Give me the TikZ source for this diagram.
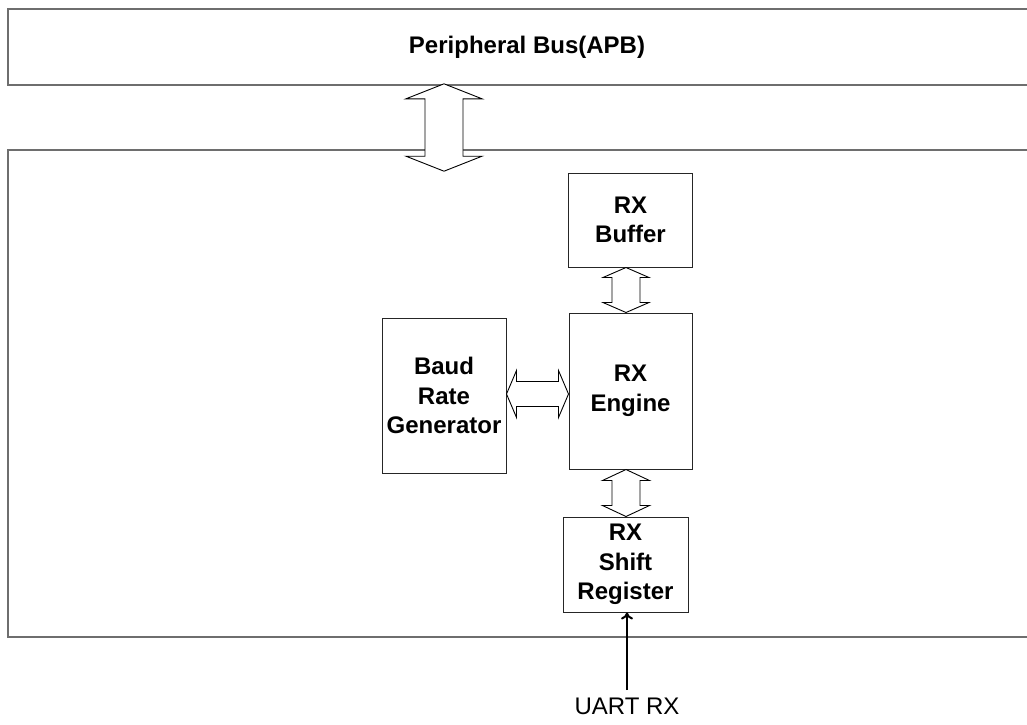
\documentclass[tikz,border=0pt]{standalone}
\usepackage{fontspec}
\setmainfont{Liberation Sans}
\usetikzlibrary{calc,arrows.meta}
\definecolor{edgegray}{HTML}{6E6E6E}
\tikzset{
  bigbox/.style={draw=edgegray, line width=1.6pt, inner sep=0pt},
  blockbox/.style={draw=black!85, line width=1pt, inner sep=0pt, align=center,
    font=\bfseries\fontsize{24}{29.5}\selectfont},
  blockarrow/.style={draw=black, line width=0.9pt, fill=white, line join=miter},
  sigarrow/.style={line width=2pt, -{To[length=7pt,width=12pt]}}
}
% vertical double block arrow: top tip, bottom tip, head half width, shaft half width, head length
\newcommand{\vdarrow}[5]{%
  \draw[blockarrow] let \p1=(#1), \p2=(#2) in
    (\x1,\y1) -- (\x1+#3pt,\y1-#5pt) -- (\x1+#4pt,\y1-#5pt) -- (\x1+#4pt,\y2+#5pt)
    -- (\x1+#3pt,\y2+#5pt) -- (\x1,\y2) -- (\x1-#3pt,\y2+#5pt) -- (\x1-#4pt,\y2+#5pt)
    -- (\x1-#4pt,\y1-#5pt) -- (\x1-#3pt,\y1-#5pt) -- cycle;}
% horizontal double block arrow: left tip, right tip, head half height, shaft half height, head length
\newcommand{\hdarrow}[5]{%
  \draw[blockarrow] let \p1=(#1), \p2=(#2) in
    (\x1,\y1) -- (\x1+#5pt,\y1+#3pt) -- (\x1+#5pt,\y1+#4pt) -- (\x2-#5pt,\y1+#4pt)
    -- (\x2-#5pt,\y1+#3pt) -- (\x2,\y1) -- (\x2-#5pt,\y1-#3pt) -- (\x2-#5pt,\y1-#4pt)
    -- (\x1+#5pt,\y1-#4pt) -- (\x1+#5pt,\y1-#3pt) -- cycle;}
\begin{document}
\begin{tikzpicture}[x=1pt,y=-1pt]
\useasboundingbox (0,0) rectangle (1027,724);
\clip (0,0) rectangle (1027,724);
% bus and main block
\node[bigbox, minimum width=1038pt, minimum height=76pt] (bus) at (527,47) {};
\node[font=\bfseries\fontsize{24}{29}\selectfont] (bustext) at (527,47) {Peripheral Bus(APB)};
\node[bigbox, minimum width=1038pt, minimum height=487pt] (main) at (527,393.5) {};
% inner blocks
\node[blockbox, minimum width=124pt, minimum height=94pt] (buf) at (630.5,220) {RX\\Buffer};
\node[blockbox, minimum width=123pt, minimum height=156pt] (eng) at (630.5,391) {RX\\Engine};
\node[blockbox, minimum width=124pt, minimum height=155pt] (baud) at (444,395.5) {Baud\\Rate\\Generator};
\node[blockbox, minimum width=125pt, minimum height=95pt] (shift) at (625.5,564.5) {RX\\Shift\\Register};
\node[font=\fontsize{24}{29}\selectfont] (uart) at (627,706) {UART RX};
% block arrows
\coordinate (bigtop) at ([yshift=2pt]bus.south -| 444,0);
\coordinate (bigbot) at ([yshift=-22pt]main.north -| 444,0);
\vdarrow{bigtop}{bigbot}{38}{19}{15}
\coordinate (a1t) at (buf.south -| 626,0);
\coordinate (a1b) at (eng.north -| 626,0);
\vdarrow{a1t}{a1b}{23}{14}{10}
\coordinate (a2t) at (eng.south -| 626,0);
\coordinate (a2b) at (shift.north -| 626,0);
\vdarrow{a2t}{a2b}{23.5}{14}{11}
\coordinate (a3l) at (baud.east |- 0,394);
\coordinate (a3r) at (eng.west |- 0,394);
\hdarrow{a3l}{a3r}{23.5}{12.5}{10}
% UART input
\coordinate (uin) at (627,690);
\draw[sigarrow] (uin) -- (uin |- shift.south);
\end{tikzpicture}
\end{document}
